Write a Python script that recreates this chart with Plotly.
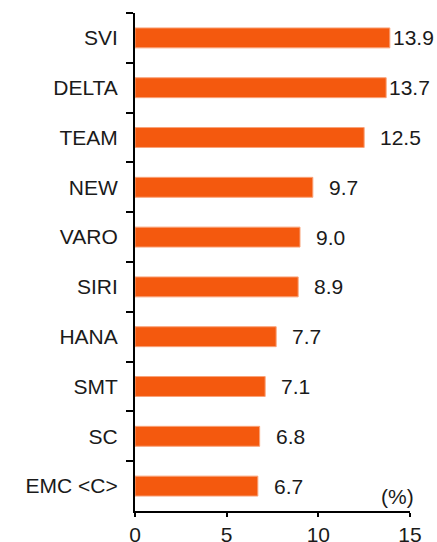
import plotly.graph_objects as go

categories = ["SVI", "DELTA", "TEAM", "NEW", "VARO", "SIRI", "HANA", "SMT", "SC", "EMC <C>"]
values = [13.9, 13.7, 12.5, 9.7, 9.0, 8.9, 7.7, 7.1, 6.8, 6.7]
value_labels = ["13.9", "13.7", "12.5", "9.7", "9.0", "8.9", "7.7", "7.1", "6.8", "6.7"]
x_ticks = [0, 5, 10, 15]
unit_label = "(%)"

FONT = "Arial, 'Liberation Sans', sans-serif"
FS = 21
TXT = "#1a1a1a"

fig = go.Figure()
fig.add_trace(go.Bar(
    x=values, y=categories, orientation="h",
    width=0.4,
    marker=dict(color="#F4590E", line=dict(color="#F9A37A", width=1)),
    hoverinfo="skip",
    cliponaxis=False,
))

for v, lab, c in zip(values, value_labels, categories):
    fig.add_annotation(
        x=v, y=c, xref="x", yref="y", text=lab, showarrow=False,
        xanchor="left", yanchor="middle",
        xshift=1 if v >= 13.5 else 14,
        font=dict(family=FONT, size=FS, color=TXT),
    )

fig.add_annotation(
    x=1, y=0, xref="paper", yref="paper", text=unit_label, showarrow=False,
    xanchor="right", yanchor="bottom", xshift=6, yshift=1,
    font=dict(family=FONT, size=FS, color=TXT),
)

fig.update_layout(
    width=437, height=542,
    margin=dict(l=135, r=27, t=13, b=31, autoexpand=False),
    paper_bgcolor="white", plot_bgcolor="white",
    showlegend=False,
    font=dict(family=FONT, size=FS, color=TXT),
    bargap=0.6,
)
fig.update_xaxes(
    range=[0, 15], tickvals=x_ticks, ticktext=[str(t) for t in x_ticks],
    showgrid=False, zeroline=False,
    showline=True, linecolor="black", linewidth=2,
    ticks="outside", ticklen=4, tickwidth=2, tickcolor="black",
    tickfont=dict(family=FONT, size=FS, color=TXT),
    fixedrange=True,
)
fig.update_yaxes(
    type="category", autorange="reversed",
    showgrid=False, zeroline=False,
    showline=True, linecolor="black", linewidth=2,
    ticks="outside", ticklen=7, tickwidth=2, tickcolor="black",
    tickson="boundaries",
    ticklabelstandoff=11,
    tickfont=dict(family=FONT, size=FS, color=TXT),
    fixedrange=True,
)

fig.write_html(
    "out.html",
    config={"displayModeBar": False},
    post_script="document.body.style.margin='0';document.body.style.overflow='hidden';",
)
